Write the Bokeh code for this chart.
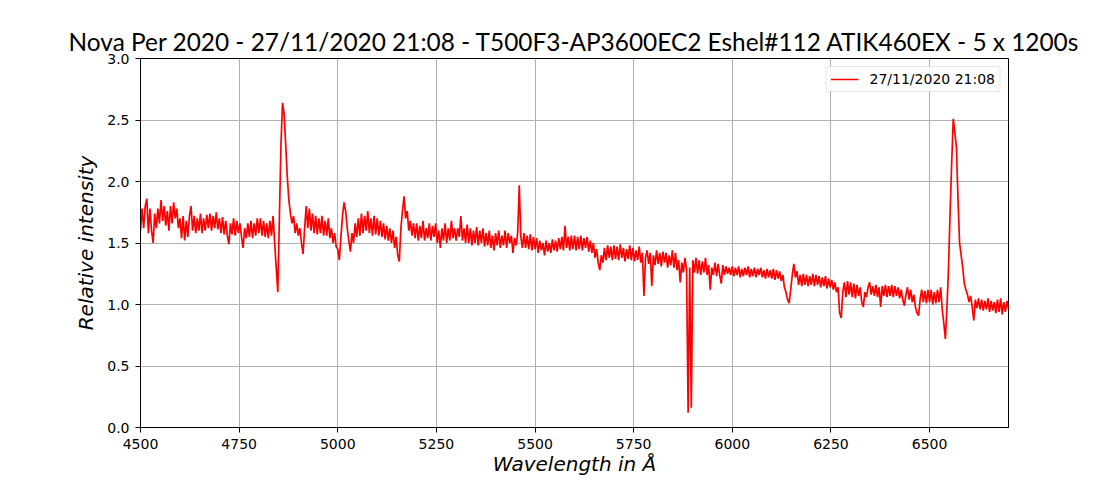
from bokeh.plotting import figure
from bokeh.models import Range1d, FixedTicker, PrintfTickFormatter, Legend, LegendItem
from bokeh.embed import file_html
from bokeh.resources import INLINE

title_text = "Nova Per 2020 - 27/11/2020 21:08 - T500F3-AP3600EC2 Eshel#112 ATIK460EX - 5 x 1200s"
legend_label = "27/11/2020 21:08"
x_label = "Wavelength in Å"
y_label = "Relative intensity"
x_ticks = [4500, 4750, 5000, 5250, 5500, 5750, 6000, 6250, 6500]
y_ticks = [0.0, 0.5, 1.0, 1.5, 2.0, 2.5, 3.0]

# wavelength sampling (Angstrom), 4 A steps
wavelength = list(range(4500, 6701, 4))

# relative intensity, per 100 A block
flux_4500 = [1.60, 1.78, 1.62, 1.80, 1.86, 1.58, 1.78, 1.60, 1.50, 1.74, 1.62, 1.78, 1.66, 1.85, 1.68, 1.80, 1.64, 1.76, 1.60, 1.80, 1.66, 1.83, 1.70, 1.78, 1.62]
flux_4600 = [1.70, 1.54, 1.72, 1.52, 1.68, 1.55, 1.72, 1.80, 1.60, 1.72, 1.58, 1.70, 1.60, 1.74, 1.58, 1.70, 1.60, 1.73, 1.62, 1.74, 1.60, 1.72, 1.62, 1.75, 1.61]
flux_4700 = [1.70, 1.58, 1.71, 1.57, 1.68, 1.56, 1.49, 1.66, 1.57, 1.70, 1.56, 1.68, 1.58, 1.66, 1.55, 1.46, 1.62, 1.54, 1.66, 1.55, 1.68, 1.54, 1.66, 1.56, 1.70]
flux_4800 = [1.58, 1.70, 1.56, 1.68, 1.55, 1.66, 1.54, 1.68, 1.56, 1.72, 1.50, 1.30, 1.10, 1.70, 2.30, 2.64, 2.55, 2.30, 2.04, 1.85, 1.74, 1.66, 1.72, 1.58, 1.66]
flux_4900 = [1.56, 1.62, 1.50, 1.41, 1.62, 1.80, 1.62, 1.78, 1.60, 1.74, 1.58, 1.72, 1.57, 1.70, 1.58, 1.72, 1.56, 1.68, 1.56, 1.70, 1.54, 1.62, 1.50, 1.58, 1.47]
flux_5000 = [1.45, 1.36, 1.55, 1.72, 1.83, 1.76, 1.62, 1.52, 1.43, 1.58, 1.50, 1.66, 1.55, 1.70, 1.56, 1.74, 1.58, 1.72, 1.60, 1.76, 1.58, 1.70, 1.56, 1.72, 1.57]
flux_5100 = [1.70, 1.56, 1.68, 1.55, 1.66, 1.53, 1.64, 1.52, 1.62, 1.50, 1.60, 1.46, 1.55, 1.40, 1.35, 1.62, 1.76, 1.88, 1.70, 1.76, 1.60, 1.68, 1.56, 1.66, 1.54]
flux_5200 = [1.66, 1.52, 1.64, 1.54, 1.68, 1.52, 1.62, 1.54, 1.66, 1.52, 1.64, 1.55, 1.66, 1.50, 1.60, 1.46, 1.62, 1.52, 1.66, 1.50, 1.62, 1.52, 1.68, 1.54, 1.62]
flux_5300 = [1.52, 1.62, 1.55, 1.72, 1.52, 1.62, 1.50, 1.65, 1.50, 1.62, 1.48, 1.60, 1.50, 1.63, 1.48, 1.60, 1.50, 1.62, 1.47, 1.58, 1.48, 1.60, 1.46, 1.56, 1.44]
flux_5400 = [1.58, 1.48, 1.60, 1.46, 1.56, 1.48, 1.60, 1.46, 1.58, 1.50, 1.56, 1.42, 1.54, 1.48, 1.58, 1.97, 1.55, 1.46, 1.58, 1.46, 1.56, 1.45, 1.57, 1.44, 1.55]
flux_5500 = [1.45, 1.54, 1.42, 1.52, 1.44, 1.50, 1.40, 1.52, 1.43, 1.50, 1.42, 1.53, 1.44, 1.52, 1.43, 1.54, 1.45, 1.55, 1.44, 1.64, 1.46, 1.55, 1.44, 1.56, 1.45]
flux_5600 = [1.56, 1.44, 1.55, 1.45, 1.56, 1.44, 1.54, 1.46, 1.55, 1.43, 1.52, 1.42, 1.50, 1.38, 1.45, 1.34, 1.28, 1.40, 1.34, 1.46, 1.36, 1.48, 1.38, 1.47, 1.36]
flux_5700 = [1.48, 1.37, 1.47, 1.36, 1.49, 1.38, 1.46, 1.35, 1.45, 1.37, 1.48, 1.36, 1.46, 1.35, 1.44, 1.36, 1.47, 1.34, 1.42, 1.07, 1.38, 1.44, 1.33, 1.42, 1.15]
flux_5800 = [1.40, 1.32, 1.44, 1.33, 1.42, 1.31, 1.43, 1.34, 1.42, 1.30, 1.40, 1.32, 1.44, 1.30, 1.42, 1.28, 1.36, 1.18, 1.34, 1.26, 1.38, 1.28, 0.12, 1.30, 0.16]
flux_5900 = [1.36, 1.26, 1.38, 1.25, 1.36, 1.24, 1.35, 1.26, 1.38, 1.24, 1.32, 1.12, 1.30, 1.24, 1.34, 1.23, 1.33, 1.24, 1.17, 1.32, 1.24, 1.31, 1.25, 1.30, 1.24]
flux_6000 = [1.31, 1.23, 1.30, 1.24, 1.31, 1.22, 1.29, 1.23, 1.30, 1.24, 1.31, 1.22, 1.29, 1.23, 1.30, 1.22, 1.29, 1.24, 1.30, 1.22, 1.28, 1.21, 1.29, 1.22, 1.28]
flux_6100 = [1.21, 1.29, 1.20, 1.28, 1.21, 1.27, 1.19, 1.24, 1.14, 1.10, 1.04, 1.01, 1.12, 1.24, 1.33, 1.22, 1.27, 1.16, 1.24, 1.15, 1.25, 1.16, 1.24, 1.15, 1.23]
flux_6200 = [1.16, 1.25, 1.15, 1.24, 1.16, 1.23, 1.14, 1.22, 1.15, 1.23, 1.13, 1.21, 1.14, 1.20, 1.12, 1.18, 1.10, 1.14, 0.93, 0.89, 1.10, 1.18, 1.06, 1.19, 1.08]
flux_6300 = [1.18, 1.06, 1.17, 1.05, 1.16, 1.07, 1.14, 1.02, 0.98, 1.10, 1.06, 1.14, 1.18, 1.08, 1.15, 1.07, 1.16, 1.06, 1.14, 0.98, 1.15, 1.07, 1.16, 1.06, 1.15]
flux_6400 = [1.07, 1.16, 1.06, 1.15, 1.07, 1.14, 1.05, 1.12, 1.04, 0.99, 1.08, 1.14, 1.04, 1.12, 1.02, 1.08, 0.98, 0.93, 0.91, 1.04, 1.12, 1.02, 1.11, 1.01, 1.12]
flux_6500 = [1.02, 1.12, 1.00, 1.10, 1.01, 1.12, 1.02, 1.14, 0.96, 0.85, 0.72, 0.98, 1.30, 1.75, 2.15, 2.51, 2.40, 2.28, 1.85, 1.50, 1.40, 1.30, 1.17, 1.12, 1.08]
flux_6600 = [1.02, 1.07, 0.98, 0.87, 1.04, 0.97, 1.05, 0.96, 1.04, 0.95, 1.03, 0.96, 1.05, 0.94, 1.03, 0.95, 1.02, 0.93, 1.04, 0.94, 1.05, 0.92, 1.02, 0.94, 1.03, 0.96]

flux = (flux_4500 + flux_4600 + flux_4700 + flux_4800 + flux_4900 + flux_5000 + flux_5100
        + flux_5200 + flux_5300 + flux_5400 + flux_5500 + flux_5600 + flux_5700 + flux_5800
        + flux_5900 + flux_6000 + flux_6100 + flux_6200 + flux_6300 + flux_6400 + flux_6500
        + flux_6600)

W, H = 1120, 480
p = figure(width=W, height=H, output_backend="svg", toolbar_location=None,
           x_range=Range1d(4500, 6700), y_range=Range1d(0, 3.0),
           min_border_left=140, min_border_right=112, min_border_top=58, min_border_bottom=53)

p.title.text = title_text
p.title.text_font = "Lato"
p.title.text_font_size = "24.4px"
p.title.text_font_style = "normal"
p.title.align = "center"
p.title.text_color = "black"
p.title.standoff = 6

r = p.line(wavelength, flux, line_color="#ff0000", line_width=1.7)

for ax in (p.xaxis[0], p.yaxis[0]):
    ax.major_label_text_font = "DejaVu Sans"
    ax.major_label_text_font_size = "14px"
    ax.major_label_text_color = "black"
    ax.major_tick_out = 5
    ax.major_tick_in = 0
    ax.minor_tick_out = 0
    ax.minor_tick_in = 0
    ax.axis_line_color = "black"
    ax.major_tick_line_color = "black"
    ax.major_label_standoff = 6

p.xaxis[0].ticker = FixedTicker(ticks=x_ticks)
p.yaxis[0].ticker = FixedTicker(ticks=y_ticks)
p.yaxis[0].formatter = PrintfTickFormatter(format="%.1f")

p.yaxis[0].axis_label = y_label
p.yaxis[0].axis_label_text_font = "DejaVu Sans"
p.yaxis[0].axis_label_text_font_style = "italic"
p.yaxis[0].axis_label_text_font_size = "20px"
p.yaxis[0].axis_label_text_color = "black"
p.yaxis[0].axis_label_standoff = 6

p.xaxis[0].axis_label = x_label
p.xaxis[0].axis_label_text_font = "DejaVu Sans"
p.xaxis[0].axis_label_text_font_style = "italic"
p.xaxis[0].axis_label_text_font_size = "20px"
p.xaxis[0].axis_label_text_color = "black"
p.xaxis[0].axis_label_standoff = 0

p.grid.grid_line_color = "#b0b0b0"
p.grid.grid_line_width = 1
p.xgrid.ticker = FixedTicker(ticks=x_ticks)
p.ygrid.ticker = FixedTicker(ticks=y_ticks)

p.outline_line_color = "black"
p.outline_line_width = 1
p.background_fill_color = "white"
p.border_fill_color = "white"

legend = Legend(items=[LegendItem(label=legend_label, renderers=[r])], location="top_right")
legend.label_text_font = "DejaVu Sans"
legend.label_text_font_size = "14px"
legend.label_text_color = "black"
legend.glyph_width = 28
legend.glyph_height = 14
legend.label_height = 14
legend.label_standoff = 11
legend.padding = 4
legend.margin = 8
legend.spacing = 0
legend.border_line_color = "#cccccc"
legend.border_line_width = 1
legend.border_radius = 3
legend.background_fill_alpha = 0.8
p.add_layout(legend)

open("out.html", "w").write(file_html(p, INLINE))
